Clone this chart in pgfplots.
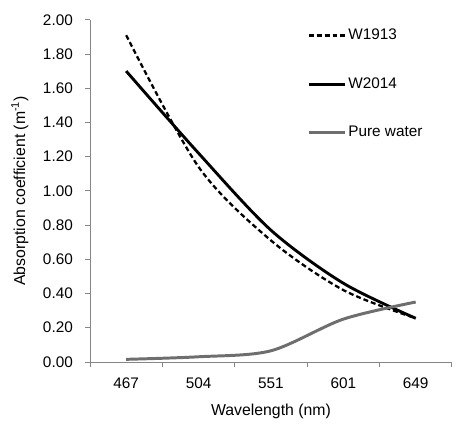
\documentclass[border=0pt]{standalone}
\usepackage{pgfplots}
\pgfplotsset{compat=1.18}
\usepackage{fontspec}
\setmainfont{Liberation Sans}
\definecolor{axisgray}{RGB}{134,134,134}
\definecolor{watergray}{RGB}{110,110,110}
\begin{document}
\fontsize{15.5}{18}\selectfont
\begin{tikzpicture}
\begin{axis}[
  scale only axis, width=366pt, height=346pt,
  xmin=-0.5, xmax=4.5, ymin=0, ymax=2,
  axis lines=left,
  axis line style={-, draw=axisgray, line width=0.8pt},
  tick style={draw=axisgray, line width=0.8pt},
  tick align=outside, major tick length=5pt,
  xtick={-0.5,0.5,1.5,2.5,3.5,4.5}, xticklabels={,,,,,},
  extra x ticks={0,1,2,3,4},
  extra x tick labels={467,504,551,601,649},
  extra x tick style={tick style={draw=none}},
  ytick={0,0.2,...,2.01},
  /pgf/number format/assume math mode=true,
  yticklabel style={xshift=-7pt, /pgf/number format/fixed,
    /pgf/number format/fixed zerofill, /pgf/number format/precision=2},
  ticklabel style={font=\fontsize{15.5}{18}\selectfont},
  xticklabel style={yshift=-6pt},
  xlabel={Wavelength (nm)},
  ylabel={Absorption coefficient (m\textsuperscript{-1})},
  label style={font=\fontsize{16}{19}\selectfont},
  xlabel style={at={(axis description cs:0.5,0)}, anchor=center, yshift=-50pt},
  ylabel style={at={(axis description cs:0,0.5)}, anchor=center, yshift=71pt},
  legend cell align=left,
  legend image code/.code={\draw[#1] (0pt,0pt) -- (37pt,0pt);},
  legend style={draw=none, fill=none, at={(rel axis cs:0.600,0.978)}, anchor=north west,
    inner sep=0pt, row sep=33pt, nodes={inner sep=1.5pt},
    font=\fontsize{15.5}{18}\selectfont},
]
\addplot[black, line width=2.3pt, dash pattern=on 5pt off 3pt, smooth] coordinates {
  (0,1.91) (1,1.14) (2,0.71) (3,0.42) (4,0.255)};
\addlegendentry{W1913}
\addplot[black, line width=2.9pt, smooth] coordinates {
  (0,1.70) (1,1.22) (2,0.77) (3,0.46) (4,0.255)};
\addlegendentry{W2014}
\addplot[watergray, line width=3pt, smooth] coordinates {
  (0,0.015) (1,0.03) (2,0.065) (3,0.25) (4,0.35)};
\addlegendentry{Pure water}
\end{axis}
\path (current axis.south west) ++(-91pt,-58pt) rectangle ++(457pt,424pt);
\end{tikzpicture}
\end{document}
